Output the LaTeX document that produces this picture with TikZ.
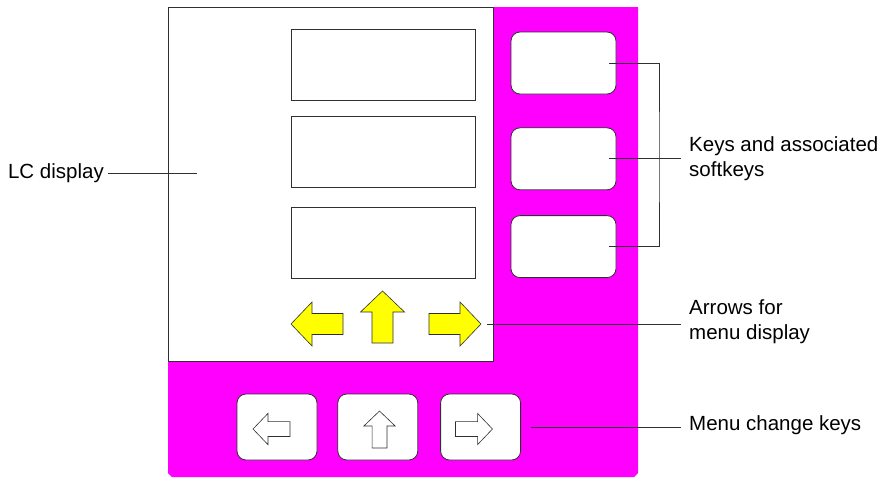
\documentclass[tikz,border=0pt]{standalone}
\usepackage{fontspec}
\setmainfont{Liberation Sans}
\usepackage{tikz}
\usetikzlibrary{positioning, calc}
\definecolor{panelmagenta}{HTML}{FF00FF}
\definecolor{arrowyellow}{HTML}{FFFF00}
\definecolor{edgegray}{HTML}{303030}

\tikzset{
  dirarrow/.pic={
    \filldraw (-26,-10.5) -- (5,-10.5) -- (5,-22) -- (26,0)
        -- (5,22) -- (5,10.5) -- (-26,10.5) -- cycle;
    \coordinate (-tip) at (26,0);
  }
}

\begin{document}
\begin{tikzpicture}[
    x=1pt, y=-1pt,
    screen/.style={rectangle, draw=edgegray, fill=white, line width=0.8pt,
        minimum width=325pt, minimum height=354pt, inner sep=0pt},
    field/.style={rectangle, draw=edgegray, fill=white, line width=0.8pt,
        minimum width=184pt, minimum height=71pt, inner sep=0pt},
    softkey/.style={rectangle, rounded corners=9pt, draw=edgegray, fill=white,
        line width=0.8pt, minimum width=105pt, minimum height=62pt, inner sep=0pt},
    menukey/.style={softkey, minimum width=80pt, minimum height=66pt},
    yarrow/.style={draw=edgegray, fill=arrowyellow, line width=0.6pt},
    warrow/.style={draw=edgegray, fill=white, line width=0.6pt},
    lbl/.style={font=\fontsize{20.5pt}{25pt}\selectfont, align=left,
        inner xsep=8pt, inner ysep=0pt},
    lead/.style={draw=edgegray, line width=0.8pt}
]
    \useasboundingbox (0,0) rectangle (883,477);

    % housing
    \fill[panelmagenta] (168,7) -- (638,7) -- (638,473) -- (634,477)
        -- (172,477) -- (168,473) -- cycle;

    % display with its three fields
    \node[screen] (lcd) at (330.5,184) {};
    \node[field] (field1) at (383,64.5) {};
    \node[field, below=16pt of field1] (field2) {};
    \node[field, below=19pt of field2] (field3) {};

    % arrows shown in the display
    \pic[yarrow, rotate=180] at (317,324) {dirarrow};
    \pic[yarrow, rotate=90] at (382.5,317) {dirarrow};
    \pic[yarrow] (yright) at (455,324) {dirarrow};

    % softkeys
    \node[softkey] (skey1) at (563.5,63) {};
    \node[softkey, below=33pt of skey1] (skey2) {};
    \node[softkey, below=25pt of skey2] (skey3) {};

    % menu change keys
    \node[menukey] (mkey1) at (277,427) {};
    \node[menukey, right=20pt of mkey1] (mkey2) {};
    \node[menukey, right=22pt of mkey2] (mkey3) {};
    \pic[warrow, rotate=180, scale=0.71] at (271.5,429) {dirarrow};
    \pic[warrow, rotate=90, scale=0.71] at (379.5,429.5) {dirarrow};
    \pic[warrow, scale=0.71] at (474,429) {dirarrow};

    % labels
    \node[lbl, inner xsep=4pt, anchor=east] (lcdlbl) at (108,173) {LC display};
    \node[lbl, anchor=west] (keylbl) at (681,159) {Keys and associated\\softkeys};
    \node[lbl, anchor=west] (arrlbl) at (681,322) {Arrows for\\menu display};
    \node[lbl, anchor=west] (menulbl) at (681,425) {Menu change keys};

    % leader lines
    \coordinate (lcdpt) at (197,173);
    \coordinate (brk) at (659,159);
    \draw[lead] (lcdlbl.east) -- (lcdpt);
    \draw[lead] ([xshift=-7pt]skey1.east) -| (brk) |- ([xshift=-7pt]skey3.east);
    \draw[lead] ([xshift=-7pt]skey2.east) -- (skey2.east -| keylbl.west);
    \draw[lead, shorten <=6pt] (yright-tip) -- (yright-tip -| arrlbl.west);
    \draw[lead, shorten <=10pt] (mkey3.east) -- (mkey3.east -| menulbl.west);
\end{tikzpicture}
\end{document}
